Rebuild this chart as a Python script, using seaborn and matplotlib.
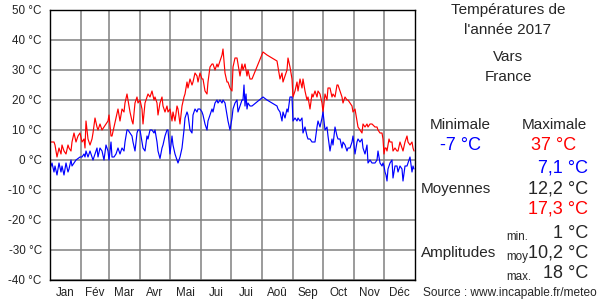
import matplotlib
matplotlib.use("Agg")
import matplotlib.pyplot as plt
import seaborn as sns
import pandas as pd
import numpy as np

# ---------------- data ----------------
days = [0, 2, 4, 5, 7, 9, 11, 12, 14, 16, 18, 19, 21, 22, 24, 26, 28, 30, 32, 34, 35, 36, 38, 40, 42, 43, 45, 47, 48, 50, 52, 54, 56, 58, 59, 61,
        62, 64, 66, 68, 70, 72, 74, 75, 77, 78, 80, 82, 83, 85, 87, 88, 90, 92, 93, 95, 97, 98, 100, 102, 104, 105, 107, 108, 110, 112, 113, 115, 117, 118, 120, 122,
        123, 125, 127, 128, 130, 132, 134, 135, 137, 138, 140, 142, 143, 145, 147, 148, 150, 152, 153, 155, 157, 158, 160, 162, 163, 165, 167, 168, 170, 172, 173, 175, 177, 178, 180, 182,
        183, 185, 187, 188, 190, 192, 193, 194, 195, 196, 197, 198, 200, 202, 213, 217, 227, 228, 230, 232, 233, 235, 237, 238, 240, 242,
        243, 245, 247, 248, 250, 252, 253, 255, 257, 258, 260, 262, 263, 265, 267, 268, 270, 272, 273, 275, 277, 278, 280, 282, 283, 285, 287, 288, 290, 292, 293, 295, 297, 298, 300,
        302, 303, 305, 307, 308, 310, 312, 313, 315, 317, 318, 320, 322, 325, 327, 328, 330, 332, 333, 334, 335, 336, 337, 338, 339, 340, 342, 343, 345, 347, 348, 350, 352, 353, 355, 357, 358, 360, 362, 363, 364]

tmax = [6, 6, 6, 5, 1, 4, 2, 5, 3, 2, 5, 4, 3, 6, 9, 6, 8, 9, 6, 7, 4, 13, 7, 5, 7, 9, 14, 11, 10, 12, 10, 11, 12, 13, 15, 8,
        8, 11, 14, 17, 13, 17, 16, 19, 22, 20, 16, 13, 12, 19, 21, 19, 20, 17, 12, 19, 21, 22, 21, 23, 20, 21, 19, 15, 19, 21, 18, 16, 18, 16, 17, 13,
        16, 13, 18, 17, 12, 18, 21, 22, 26, 24, 27, 25, 26, 29, 28, 26, 29, 27, 27, 23, 22, 26, 31, 32, 32, 30, 32, 31, 33, 35, 37, 29, 26, 26, 24, 23,
        31, 34, 34, 32, 28, 32, 30, 31, 32, 30, 28, 30, 27, 27, 36, 35, 33, 31, 27, 29, 26, 28, 30, 34, 31, 27,
        21, 23, 26, 23, 27, 24, 27, 23, 20, 21, 17, 22, 21, 23, 21, 23, 22, 19, 16, 22, 20, 24, 24, 21, 22, 21, 25, 25, 23, 21, 19, 21, 20, 20, 19,
        18, 16, 17, 13, 11, 10, 9, 12, 11, 12, 11, 12, 12, 11, 11, 10, 9, 9, 7, 2, 4, 4, 3, 5, 7, 6, 6, 3, 4, 3, 3, 6, 4, 3, 6, 8, 6, 5, 6, 4, 3]

tmin = [-3, -1, -4, -2, -5, -1, -4, -2, -5, -1, -4, -3, 0, -2, -1, 0, 0.5, 1, 1, 2, 1, 3, 1, 3, 1, 0, 2, 4, 1, 4, 3, 0, 5, 3, 0, 6,
        1, 1, 2, 4, 2, 4, 3, 6, 10, 10, 9, 8, 6, 3, 9, 10, 10, 6, 4, 3, 8, 7, 10, 10, 9, 10, 6, 3, 0.5, 4, 5, 8, 10, 10, 2, 8,
        5, 2, 0, -1, 1, 4, 10, 14, 16, 15, 10, 9, 15, 17, 16, 17, 17, 16, 15, 12, 10, 13, 15, 17, 16, 19, 20, 19, 20, 19, 20, 19, 15, 13, 10, 14,
        17, 19, 20, 16, 18, 20, 20, 25, 18, 22, 17, 19, 18, 18, 21, 20, 18, 17, 16, 13, 16, 14, 17, 16, 21, 21,
        13, 14, 13, 14, 13, 14, 9, 11, 8, 7, 7, 6, 6, 6, 11, 13, 11, 14, 16, 10, 11, 8, 3, 7, 5, 11, 8, 7, 7, 4, 6, 5, 3, 4, 4,
        6, 8, 2, 6, 7, 6, 7, 4, 2, 5, -1, 0, -1, -1, 0, 3, -1, -2, -1, -2, -4, -5, -7, -3, -2, -1, 0, -6, -2, -2, -4, -2, -3, -7, -2, -2, -1, 1, -4, -2, -3]

month_starts = [0, 31, 59, 90, 120, 151, 181, 212, 243, 273, 304, 334, 365]
month_labels = ["Jan", "Fév", "Mar", "Avr", "Mai", "Jui", "Jui", "Aoû", "Sep", "Oct", "Nov", "Déc"]
y_ticks = [-40, -30, -20, -10, 0, 10, 20, 30, 40, 50]

df = pd.DataFrame({"jour": days, "max": tmax, "min": tmin})

# ---------------- style ----------------
sns.set_style("white")
plt.rcParams["font.family"] = ["Liberation Sans", "DejaVu Sans"]

W, H = 600, 300
fig = plt.figure(figsize=(6, 3), dpi=100)
ax = fig.add_axes([50 / W, 20 / H, 365 / W, 270 / H])

sns.lineplot(data=df, x="jour", y="max", ax=ax, color="#ff0000", lw=0.85,
             estimator=None, sort=False)
sns.lineplot(data=df, x="jour", y="min", ax=ax, color="#0000ff", lw=0.85,
             estimator=None, sort=False)

ax.set_xlim(0, 365)
ax.set_ylim(-40, 50)
ax.set_xticks(month_starts[1:-1])
ax.set_xticks([(a + b) / 2 for a, b in zip(month_starts[:-1], month_starts[1:])], minor=True)
ax.set_xticklabels([])
ax.set_xticklabels(month_labels, minor=True)
ax.set_yticks(y_ticks)
ax.set_yticklabels([f"{v} °C" for v in y_ticks])
ax.tick_params(axis="both", which="both", length=0, labelsize=8.4, colors="#222222")
ax.tick_params(axis="y", pad=6)
ax.tick_params(axis="x", which="minor", pad=5)
ax.grid(True, which="major", color="#808080", lw=1.1)
ax.set_axisbelow(True)
ax.set_xlabel("")
ax.set_ylabel("")
for s in ax.spines.values():
    s.set_color("black")
    s.set_linewidth(1.0)


def ftext(x, y, s, **kw):
    fig.text(x / W, 1 - y / H, s, va="center", **kw)


ftext(508, 10, "Températures de", ha="center", fontsize=11)
ftext(508, 30, "l'année 2017", ha="center", fontsize=11)
ftext(508, 57, "Vars", ha="center", fontsize=11)
ftext(508, 77, "France", ha="center", fontsize=11)

ftext(460, 125, "Minimale", ha="center", fontsize=11)
ftext(554, 125, "Maximale", ha="center", fontsize=11)
ftext(460, 145, "-7 °C", ha="center", fontsize=13, color="#0000ff")
ftext(554, 145, "37 °C", ha="center", fontsize=13, color="#ff0000")

ftext(421, 189, "Moyennes", ha="left", fontsize=11)
ftext(588, 168, "7,1 °C", ha="right", fontsize=13, color="#0000ff")
ftext(588, 189, "12,2 °C", ha="right", fontsize=13)
ftext(588, 209, "17,3 °C", ha="right", fontsize=13, color="#ff0000")

ftext(421, 253, "Amplitudes", ha="left", fontsize=11)
ftext(506, 237, "min.", ha="left", fontsize=8.4)
ftext(506, 257, "moy", ha="left", fontsize=8.4)
ftext(506, 277, "max.", ha="left", fontsize=8.4)
ftext(588, 233, "1 °C", ha="right", fontsize=13)
ftext(588, 253, "10,2 °C", ha="right", fontsize=13)
ftext(588, 273, "18 °C", ha="right", fontsize=13)

ftext(597, 293, "Source : www.incapable.fr/meteo", ha="right", fontsize=8.6)

fig.savefig("out.png", dpi=100)
